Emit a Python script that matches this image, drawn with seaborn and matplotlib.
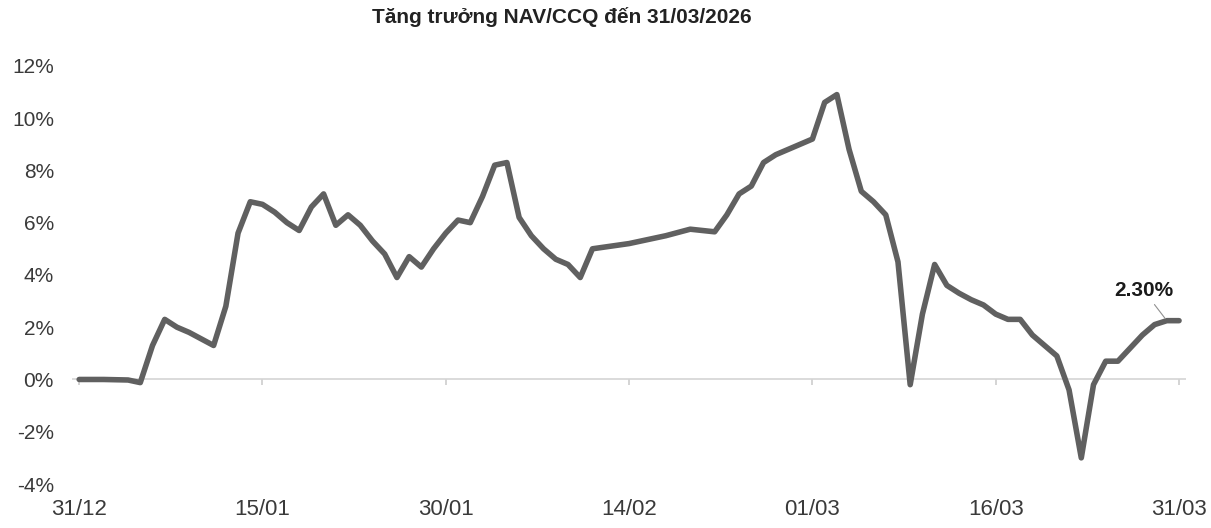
import matplotlib
matplotlib.use("Agg")
import matplotlib.pyplot as plt
import matplotlib.dates as mdates
import pandas as pd
import seaborn as sns

# Dữ liệu (tăng trưởng NAV/CCQ, %)
dates = [
    "2025-12-31", "2026-01-02", "2026-01-04", "2026-01-05", "2026-01-06",
    "2026-01-07", "2026-01-08", "2026-01-09", "2026-01-10", "2026-01-11",
    "2026-01-12", "2026-01-13", "2026-01-14", "2026-01-15", "2026-01-16",
    "2026-01-17", "2026-01-18", "2026-01-19", "2026-01-20", "2026-01-21",
    "2026-01-22", "2026-01-23", "2026-01-24", "2026-01-25", "2026-01-26",
    "2026-01-27", "2026-01-28", "2026-01-29", "2026-01-30", "2026-01-31",
    "2026-02-01", "2026-02-02", "2026-02-03", "2026-02-04", "2026-02-05",
    "2026-02-06", "2026-02-07", "2026-02-08", "2026-02-09", "2026-02-10",
    "2026-02-11", "2026-02-14", "2026-02-17", "2026-02-19", "2026-02-21",
    "2026-02-22", "2026-02-23", "2026-02-24", "2026-02-25", "2026-02-26",
    "2026-02-27", "2026-02-28", "2026-03-01", "2026-03-02", "2026-03-03",
    "2026-03-04", "2026-03-05", "2026-03-06", "2026-03-07", "2026-03-08",
    "2026-03-09", "2026-03-10", "2026-03-11", "2026-03-12", "2026-03-13",
    "2026-03-14", "2026-03-15", "2026-03-16", "2026-03-17", "2026-03-18",
    "2026-03-19", "2026-03-20", "2026-03-21", "2026-03-22", "2026-03-23",
    "2026-03-24", "2026-03-25", "2026-03-26", "2026-03-27", "2026-03-28",
    "2026-03-29", "2026-03-30", "2026-03-31",
]
nav_growth = [
    0.00, 0.00, -0.02, -0.12, 1.30,
    2.30, 2.00, 1.80, 1.55, 1.30,
    2.80, 5.60, 6.80, 6.70, 6.40,
    6.00, 5.70, 6.60, 7.10, 5.90,
    6.30, 5.90, 5.30, 4.80, 3.90,
    4.70, 4.30, 5.00, 5.60, 6.10,
    6.00, 7.00, 8.20, 8.30, 6.20,
    5.50, 5.00, 4.60, 4.40, 3.90,
    5.00, 5.20, 5.50, 5.75, 5.65,
    6.30, 7.10, 7.40, 8.30, 8.60,
    8.80, 9.00, 9.20, 10.60, 10.90,
    8.80, 7.20, 6.80, 6.30, 4.50,
    -0.20, 2.50, 4.40, 3.60, 3.30,
    3.05, 2.85, 2.50, 2.30, 2.30,
    1.70, 1.30, 0.90, -0.40, -3.00,
    -0.20, 0.70, 0.70, 1.20, 1.70,
    2.10, 2.25, 2.25,
]

tick_dates = ["2025-12-31", "2026-01-15", "2026-01-30", "2026-02-14",
              "2026-03-01", "2026-03-16", "2026-03-31"]
y_ticks = [-4, -2, 0, 2, 4, 6, 8, 10, 12]
title = "Tăng trưởng NAV/CCQ đến 31/03/2026"
last_label = "2.30%"

sns.set_theme(style="white")
plt.rcParams["font.family"] = ["Liberation Sans", "DejaVu Sans"]

df = pd.DataFrame({"date": pd.to_datetime(dates), "nav": nav_growth})
ticks = pd.to_datetime(tick_dates)

fig = plt.figure(figsize=(12.11, 5.28), dpi=100)
ax = fig.add_axes([0.0595, 0.0833, 0.92, 0.792])

# đường 0%
ax.axhline(0, color="#d4d4d4", lw=1.2, zorder=1)

sns.lineplot(data=df, x="date", y="nav", ax=ax, color="#606060",
             linewidth=4.0, solid_joinstyle="round", solid_capstyle="round",
             zorder=3)

pad = pd.Timedelta(hours=14)
ax.set_xlim(ticks[0] - pad, ticks[-1] + pad)
ax.set_ylim(y_ticks[0], y_ticks[-1])
ax.set_yticks(y_ticks)
ax.set_yticklabels([f"{v}%" for v in y_ticks])
ax.set_xticks(ticks)
ax.xaxis.set_major_formatter(mdates.DateFormatter("%d/%m"))
ax.tick_params(axis="both", length=0, labelcolor="#3a3a3a")
ax.tick_params(axis="y", pad=13, labelsize=15)
ax.tick_params(axis="x", pad=11, labelsize=16)
ax.set_xlabel("")
ax.set_ylabel("")
for s in ax.spines.values():
    s.set_visible(False)

# vạch chia nhỏ trên trục 0%
sec = ax.secondary_xaxis(0.25)
sec.set_xticks(mdates.date2num(ticks))
sec.tick_params(axis="x", length=4, color="#cfcfcf", labelbottom=False)
sec.spines["bottom"].set_visible(False)

# nhãn giá trị cuối
ax.annotate(last_label, xy=(df["date"].iloc[-2], df["nav"].iloc[-2]),
            xytext=(-23, 30), textcoords="offset pixels",
            ha="center", va="center", fontsize=15, fontweight="bold",
            color="#1a1a1a",
            arrowprops=dict(arrowstyle="-", color="#909090", lw=0.8,
                            shrinkA=1, shrinkB=2))

fig.text(0.464, 0.968, title, ha="center", va="center", fontsize=15,
         fontweight="bold", color="#222222")

fig.savefig("out.png", dpi=100, facecolor="white")
